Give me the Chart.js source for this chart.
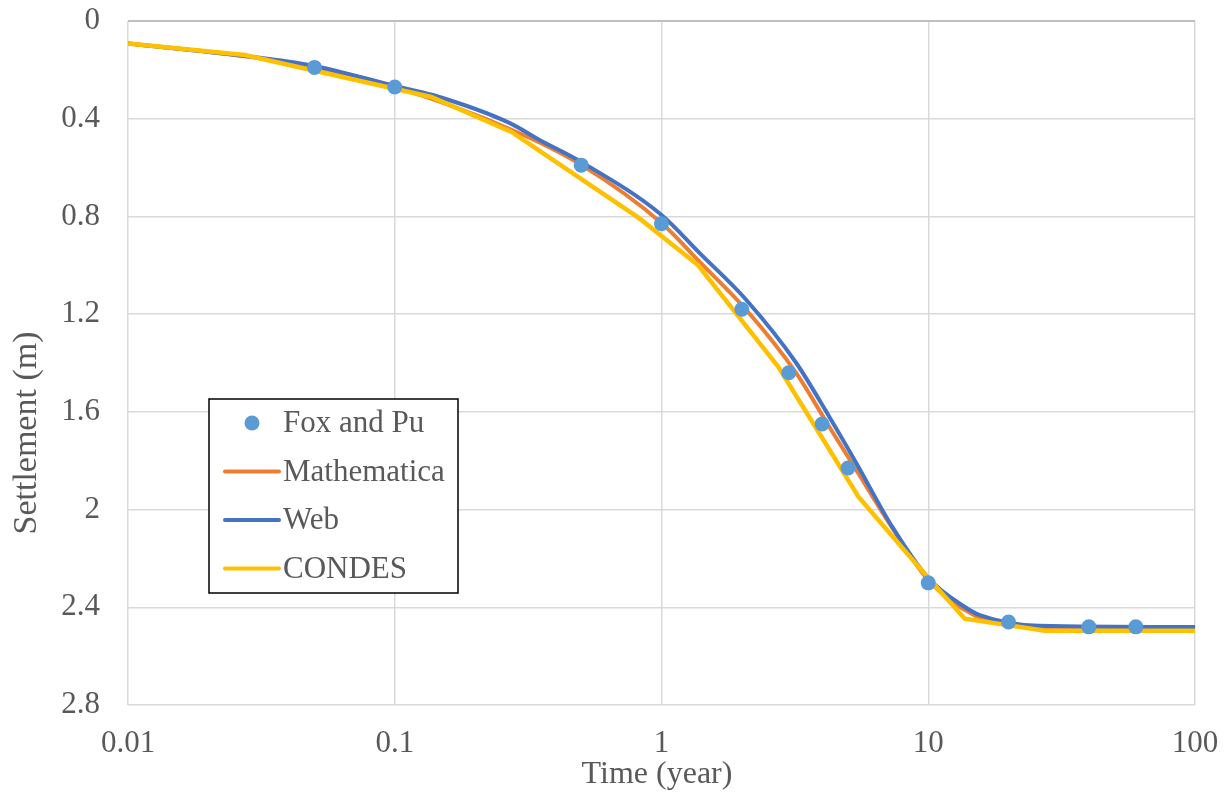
<!DOCTYPE html>
<html>
<head>
<meta charset="utf-8">
<script src="https://cdn.jsdelivr.net/npm/chart.js@4.4.1/dist/chart.umd.min.js"></script>
<style>
  html, body { margin: 0; padding: 0; background: #fff; }
  #wrap { width: 1227px; height: 792px; }
</style>
</head>
<body>
<div id="wrap"><canvas id="settlementChart" width="1227" height="792"></canvas></div>
<script>
'use strict';

// Fox and Pu reference points
const foxTime = [0.05, 0.1, 0.5, 1, 2, 3, 4, 5, 10, 20, 40, 60];
const foxSettle = [0.19, 0.27, 0.59, 0.83, 1.18, 1.44, 1.65, 1.83, 2.3, 2.46, 2.48, 2.48];

// Mathematica solution
const mathTime = [0.01, 0.027, 0.05, 0.1, 0.27, 0.5, 1, 1.39, 2.08, 3.2, 4.26, 5.37, 7.33, 10, 15, 20, 30, 100];
const mathSettle = [0.092, 0.143, 0.188, 0.27, 0.442, 0.589, 0.827, 0.986, 1.183, 1.441, 1.662, 1.838, 2.075, 2.288, 2.435, 2.468, 2.485, 2.489];

// Web solution
const webTime = [0.01, 0.027, 0.05, 0.1, 0.139, 0.27, 0.349, 0.5, 1, 1.39, 2.08, 3.2, 4.26, 5.37, 7.33, 10, 13.9, 15.5, 26, 100];
const webSettle = [0.092, 0.142, 0.184, 0.266, 0.303, 0.418, 0.487, 0.577, 0.794, 0.95, 1.142, 1.4, 1.621, 1.809, 2.071, 2.28, 2.403, 2.431, 2.476, 2.481];

// CONDES output (days / 365)
const condesTime = [0.01, 0.0274, 0.137, 0.274, 0.822, 1.37, 2.74, 5.48, 10, 13.7, 27.4, 100];
const condesSettle = [0.092, 0.139, 0.311, 0.454, 0.806, 0.999, 1.416, 1.948, 2.28, 2.447, 2.496, 2.496];

const timeTicks = [0.01, 0.1, 1, 10, 100];
const seriesNames = ['Fox and Pu', 'Mathematica', 'Web', 'CONDES'];

const serif = '"Liberation Serif", "Times New Roman", serif';
const textGrey = '#595959';
const gridGrey = '#d9d9d9';

// plot frame inside the 1227 x 792 canvas
const frame = { left: 128, top: 21, right: 1195, bottom: 705 };

function toPoints(xs, ys) {
    return xs.map((x, i) => ({ x: x, y: ys[i] }));
}

// Axis titles placed by hand
const axisTitles = {
    id: 'axisTitles',
    afterDraw(chart) {
        const ctx = chart.ctx;
        ctx.save();
        ctx.fillStyle = textGrey;
        ctx.textAlign = 'center';
        ctx.textBaseline = 'alphabetic';
        ctx.font = '32px ' + serif;
        ctx.fillText('Time (year)', 657, 783);
        ctx.translate(36, 433);
        ctx.rotate(-Math.PI / 2);
        ctx.font = '34px ' + serif;
        ctx.fillText('Settlement (m)', 0, 0);
        ctx.restore();
    },
};

// Legend box drawn inside the plot area
const insideLegend = {
    id: 'insideLegend',
    afterDraw(chart) {
        const ctx = chart.ctx;
        const area = chart.chartArea;
        const x0 = area.left + 81;
        const y0 = area.top + 378;
        const w = 249;
        const h = 194;
        ctx.save();
        ctx.fillStyle = '#fff';
        ctx.fillRect(x0, y0, w, h);
        ctx.strokeStyle = '#000';
        ctx.lineWidth = 1.5;
        ctx.strokeRect(x0, y0, w, h);
        ctx.font = '31px ' + serif;
        ctx.textBaseline = 'middle';
        chart.data.datasets.forEach((ds, i) => {
            const cy = y0 + 24 + i * 48.5;
            if (ds.showLine === false) {
                ctx.fillStyle = ds.pointBackgroundColor;
                ctx.beginPath();
                ctx.arc(x0 + 43, cy, 7.5, 0, Math.PI * 2);
                ctx.fill();
            } else {
                ctx.strokeStyle = ds.borderColor;
                ctx.lineWidth = 4;
                ctx.lineCap = 'round';
                ctx.beginPath();
                ctx.moveTo(x0 + 16, cy);
                ctx.lineTo(x0 + 70, cy);
                ctx.stroke();
            }
            ctx.fillStyle = textGrey;
            ctx.fillText(ds.label, x0 + 74, cy + 1);
        });
        ctx.restore();
    },
};

const ctx = document.getElementById('settlementChart').getContext('2d');
const chart = new Chart(ctx, {
    type: 'scatter',
    data: {
        datasets: [
            {
                label: seriesNames[0],
                data: toPoints(foxTime, foxSettle),
                showLine: false,
                pointRadius: 7.5,
                pointBackgroundColor: '#5b9bd5',
                pointBorderWidth: 0,
                order: 0,
            },
            {
                label: seriesNames[1],
                data: toPoints(mathTime, mathSettle),
                showLine: true,
                borderColor: '#ed7d31',
                borderWidth: 4,
                pointRadius: 0,
                cubicInterpolationMode: 'monotone',
                order: 3,
            },
            {
                label: seriesNames[2],
                data: toPoints(webTime, webSettle),
                showLine: true,
                borderColor: '#4472c4',
                borderWidth: 4,
                pointRadius: 0,
                cubicInterpolationMode: 'monotone',
                order: 2,
            },
            {
                label: seriesNames[3],
                data: toPoints(condesTime, condesSettle),
                showLine: true,
                borderColor: '#ffc000',
                borderWidth: 4.5,
                pointRadius: 0,
                tension: 0,
                order: 1,
            },
        ],
    },
    options: {
        responsive: false,
        animation: false,
        layout: { padding: { top: frame.top, right: 1227 - frame.right, left: 0, bottom: 0 } },
        plugins: {
            legend: { display: false },
            tooltip: { enabled: false },
        },
        scales: {
            x: {
                type: 'logarithmic',
                min: 0.01,
                max: 100,
                afterBuildTicks: (scale) => {
                    scale.ticks = timeTicks.map((v) => ({ value: v }));
                },
                afterFit: (scale) => {
                    scale.height = 792 - frame.bottom;
                    scale.paddingLeft = 0;
                    scale.paddingRight = 0;
                },
                grid: { color: gridGrey, lineWidth: 1.5, drawTicks: false },
                border: { display: false },
                ticks: {
                    color: textGrey,
                    padding: 20,
                    font: { family: serif, size: 31 },
                    maxRotation: 0,
                    callback: (v) => String(v),
                },
            },
            y: {
                min: 0,
                max: 2.8,
                reverse: true,
                afterFit: (scale) => {
                    scale.width = frame.left;
                    scale.paddingTop = 0;
                    scale.paddingBottom = 0;
                },
                grid: {
                    color: (c) => (c.tick && c.tick.value === 0 ? '#bfbfbf' : gridGrey),
                    lineWidth: (c) => (c.tick && c.tick.value === 0 ? 2 : 1.5),
                    drawTicks: false,
                },
                border: { display: false },
                ticks: {
                    stepSize: 0.4,
                    color: textGrey,
                    padding: 28,
                    font: { family: serif, size: 31 },
                    callback: (v) => String(Math.round(v * 10) / 10),
                },
            },
        },
    },
    plugins: [insideLegend, axisTitles],
});
</script>
</body>
</html>
